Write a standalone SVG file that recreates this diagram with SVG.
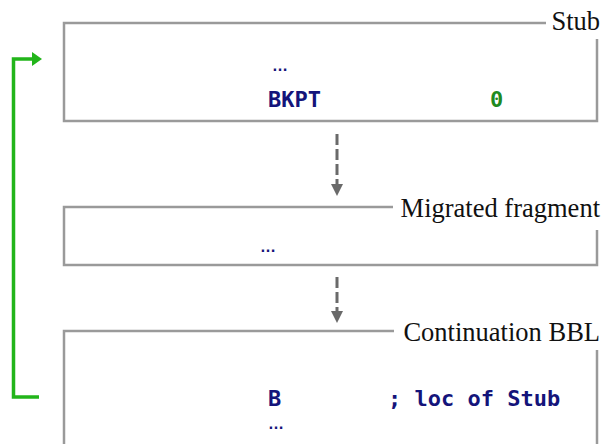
<svg xmlns="http://www.w3.org/2000/svg" width="603" height="444" viewBox="0 0 603 444">
  <style>
    .frame { fill: none; stroke: #9a9a9a; stroke-width: 2.5; }
    .label { font-family: "Liberation Serif", "Times New Roman", serif; font-size: 26.5px; fill: #111; text-anchor: end; }
    .code { font-family: "DejaVu Sans Mono", "Liberation Mono", monospace; font-size: 22px; font-weight: bold; fill: #14147a; }
    .dots { font-family: "Liberation Sans", Arial, sans-serif; font-size: 16px; font-weight: bold; fill: #14147a; }
    .num { fill: #1f8a1f; }
    .flow { fill: none; stroke: #6a6a6a; stroke-width: 3; stroke-dasharray: 11 4; }
    .loop { fill: none; stroke: #22b51a; stroke-width: 3.5; }
  </style>

  <!-- Stub block -->
  <g id="stub">
    <path class="frame" d="M546,23 H64 V121 H597 V39"/>
    <text class="label" x="600" y="30">Stub</text>
    <text class="dots" x="272" y="71">…</text>
    <text class="code" x="268" y="107">BKPT</text>
    <text class="code num" x="490" y="107">0</text>
  </g>

  <!-- Migrated fragment block -->
  <g id="migrated">
    <path class="frame" d="M393,207 H64 V265 H597 V230"/>
    <text class="label" x="600" y="217">Migrated fragment</text>
    <text class="dots" x="260" y="252">…</text>
  </g>

  <!-- Continuation BBL block -->
  <g id="continuation">
    <path class="frame" d="M394,331 H64 V444 M597,350 V444"/>
    <text class="label" x="600" y="341">Continuation BBL</text>
    <text class="code" x="268" y="406">B</text>
    <text class="code" x="388" y="406">; loc of Stub</text>
    <text class="dots" x="268" y="429">…</text>
  </g>

  <!-- connectors -->
  <g id="connectors">
    <line class="flow" x1="337" y1="134" x2="337" y2="186"/>
    <path d="M331,184 H343 L337,196 Z" fill="#6a6a6a"/>
    <line class="flow" x1="337" y1="277" x2="337" y2="312"/>
    <path d="M331,311 H343 L337,323 Z" fill="#6a6a6a"/>
    <path class="loop" d="M39,397 H13.5 V59 H33"/>
    <path d="M32,52 L42,59 L32,66 Z" fill="#22b51a"/>
  </g>
</svg>
